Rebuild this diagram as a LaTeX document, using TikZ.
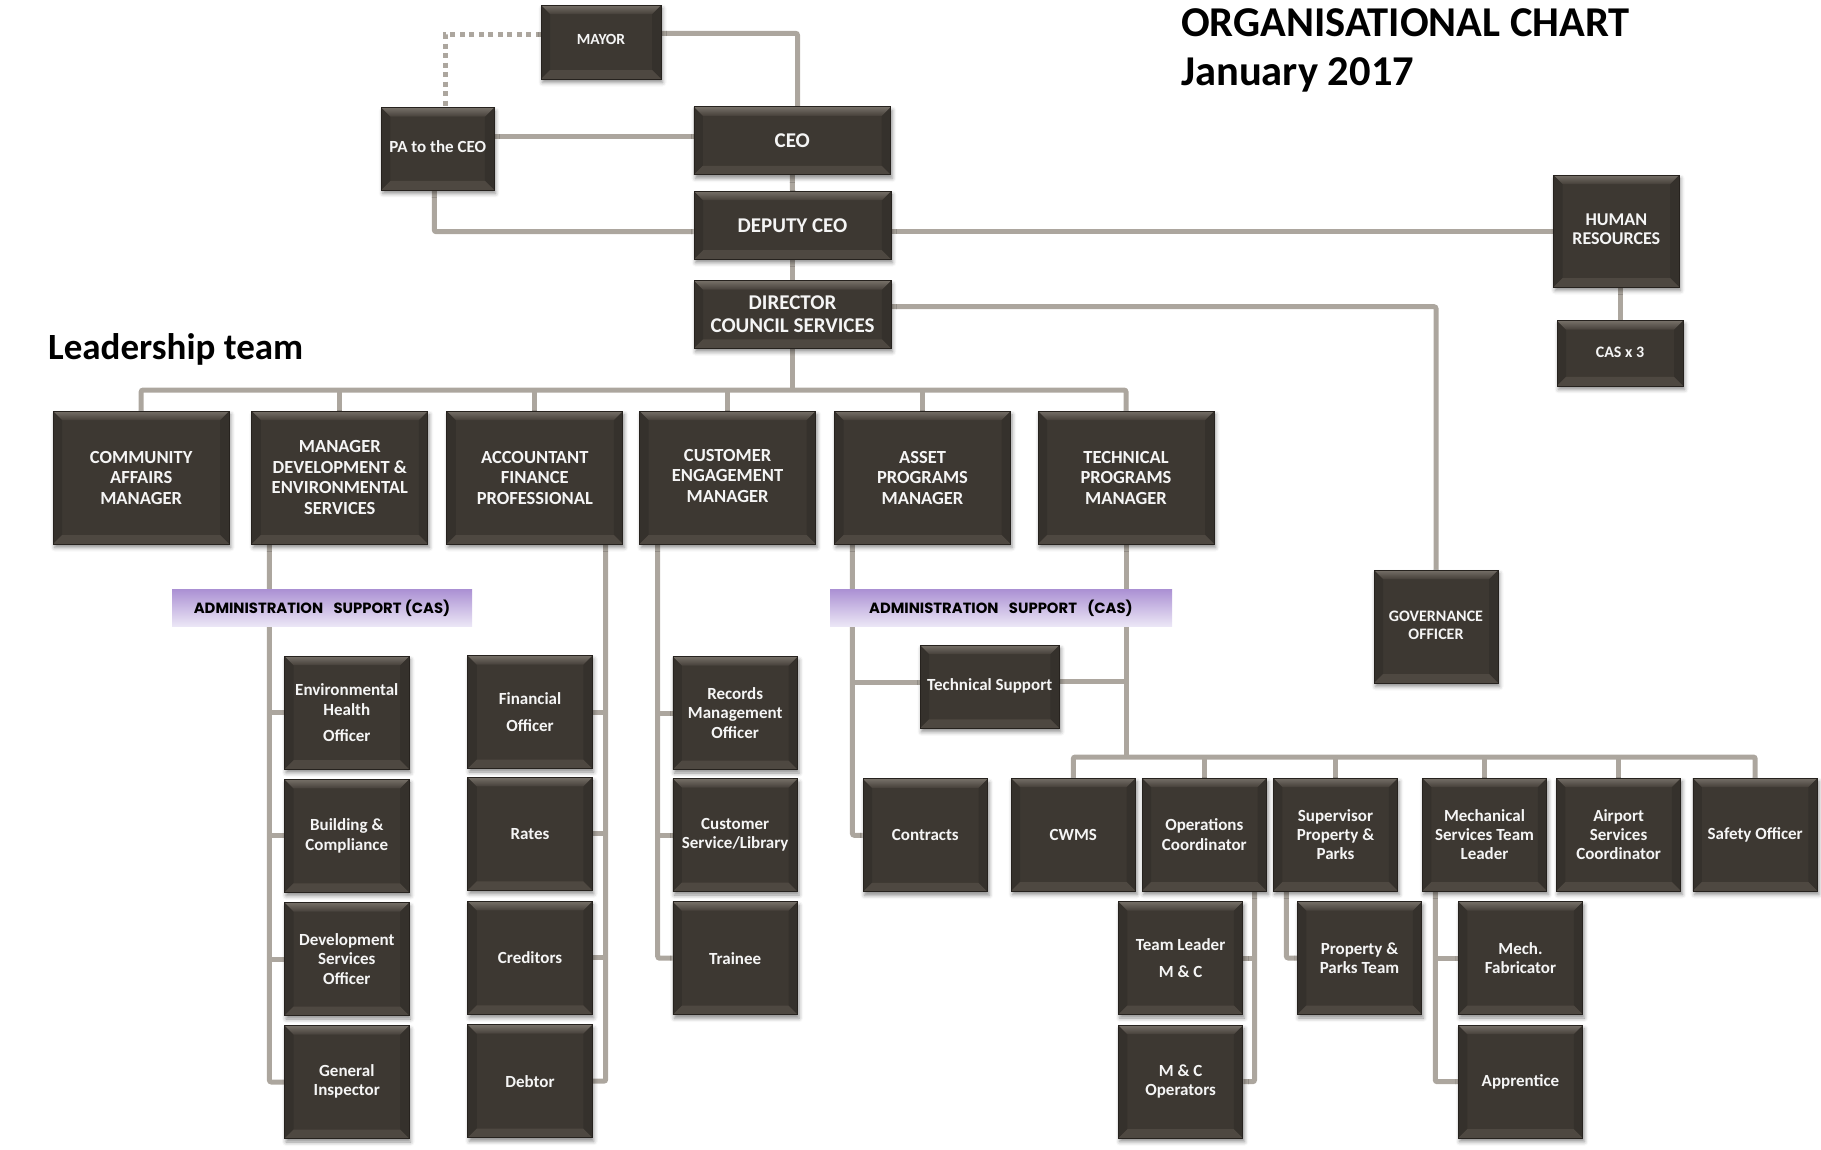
\documentclass[tikz,border=0pt]{standalone}
\usepackage{fontspec}
\setmainfont{Carlito}
\newfontfamily\admfont{Poppins}
\usetikzlibrary{shadows.blur,calc}
\definecolor{boxface}{RGB}{61,56,50}
\definecolor{bevtop}{RGB}{118,112,104}
\definecolor{bevtopb}{RGB}{70,64,58}
\definecolor{bevside}{RGB}{53,49,44}
\definecolor{bevbot}{RGB}{78,72,65}
\definecolor{boxedge}{RGB}{38,34,30}
\definecolor{linec}{RGB}{172,166,158}
\definecolor{panelt}{RGB}{158,158,158}
\definecolor{panelb}{RGB}{228,228,228}
\definecolor{panelline}{RGB}{90,86,82}
\definecolor{admt}{RGB}{172,146,212}
\definecolor{admb}{RGB}{236,231,246}
\definecolor{boxtext}{RGB}{245,245,245}
\pgfdeclarelayer{panellayer}
\pgfdeclarelayer{linelayer}
\pgfsetlayers{panellayer,linelayer,main}
\tikzset{
  bev/.style={path picture={
    \coordinate (bvnw) at (path picture bounding box.north west);
    \coordinate (bvne) at (path picture bounding box.north east);
    \coordinate (bvsw) at (path picture bounding box.south west);
    \coordinate (bvse) at (path picture bounding box.south east);
    \coordinate (bvinw) at ([shift={(9pt,-9pt)}]bvnw);
    \coordinate (bvine) at ([shift={(-9pt,-9pt)}]bvne);
    \coordinate (bvisw) at ([shift={(9pt,9pt)}]bvsw);
    \coordinate (bvise) at ([shift={(-9pt,9pt)}]bvse);
    \fill[bevside] (bvnw) -- (bvinw) -- (bvisw) -- (bvsw) -- cycle;
    \fill[bevside] (bvne) -- (bvine) -- (bvise) -- (bvse) -- cycle;
    \fill[bevbot] (bvsw) -- (bvisw) -- (bvise) -- (bvse) -- cycle;
    \shade[top color=bevtop, bottom color=bevtopb] (bvnw) -- (bvne) -- (bvine) -- (bvinw) -- cycle;
  }},
  orgbox/.style={draw=boxedge, line width=0.8pt, fill=boxface, bev,
    blur shadow={shadow xshift=1.5pt, shadow yshift=-3.5pt, shadow blur radius=4pt, shadow opacity=45},
    text=boxtext, align=center, inner sep=0pt,
    font=\bfseries\fontsize{17}{19.4}\selectfont,
    minimum width=124.5pt, minimum height=113pt},
  topbox/.style={orgbox, minimum width=196.8pt, minimum height=68pt,
    font=\bfseries\fontsize{21}{23.3}\selectfont},
  leadbox/.style={orgbox, minimum width=176pt, minimum height=133pt,
    font=\bfseries\fontsize{18.5}{20.5}\selectfont},
  admbar/.style={top color=admt, bottom color=admb, draw=none, inner sep=0pt,
    minimum height=36.5pt, text=black, font=\admfont\bfseries\fontsize{14.8}{17}\selectfont},
  conn/.style={draw=linec, line width=5pt, rounded corners=2pt},
  dotconn/.style={draw=linec, line width=5pt, dash pattern=on 5pt off 4.5pt},
  titletext/.style={anchor=base west, inner sep=0pt, text=black},
}
\begin{document}
\begin{tikzpicture}[x=1pt,y=-1pt]
\useasboundingbox (0,0) rectangle (1821,1149);
% titles
\node[titletext, font=\bfseries\fontsize{42.5}{46}\selectfont] (title1) at (1181,36) {ORGANISATIONAL CHART};
\node[titletext, font=\bfseries\fontsize{42.5}{46}\selectfont] (title2) at (1181,85) {January 2017};
\node[titletext, font=\bfseries\fontsize{37}{40}\selectfont] (ltlabel) at (48,359) {Leadership team};
% panel
\begin{pgfonlayer}{panellayer}
\node[draw=panelline, line width=0.9pt, top color=panelt, bottom color=panelb,
  minimum width=1327.5pt, minimum height=169.5pt, inner sep=0pt] (panel) at (667.2,486.7) {};
\end{pgfonlayer}
% top management
\node[orgbox, minimum width=120pt, minimum height=74pt, font=\bfseries\fontsize{15.5}{18}\selectfont] (mayor) at (601,42) {\raisebox{6pt}{MAYOR}};
\node[orgbox, minimum width=112.5pt, minimum height=82.3pt] (pa) at (437.7,148.8) {\raisebox{4pt}{PA to the CEO}};
\node[topbox] (ceo) at (792.3,140.8) {CEO};
\node[topbox] (deputy) at (792.5,225.2) {DEPUTY CEO};
\node[topbox, minimum height=67.6pt] (director) at (792.5,314.5) {DIRECTOR\\COUNCIL SERVICES};
\node[orgbox, minimum width=125.5pt, minimum height=112pt, font=\bfseries\fontsize{18}{19.5}\selectfont] (hr) at (1616.3,231) {\raisebox{4pt}{\begin{tabular}{@{}c@{}}HUMAN\\RESOURCES\end{tabular}}};
\node[orgbox, minimum width=126pt, minimum height=65.3pt, font=\bfseries\fontsize{16}{18}\selectfont] (cas3) at (1620,353.3) {\raisebox{2.5pt}{CAS x 3}};
\node[orgbox, minimum width=124pt, minimum height=113pt, font=\bfseries\fontsize{16}{18}\selectfont] (gov) at (1436,626.5) {\raisebox{3pt}{\begin{tabular}{@{}c@{}}GOVERNANCE\\OFFICER\end{tabular}}};
% leadership team
\node[leadbox] (lt1) at (141.2,477.5) {COMMUNITY\\AFFAIRS\\MANAGER};
\node[leadbox] (lt2) at (339.8,477.5) {MANAGER\\DEVELOPMENT \&\\ENVIRONMENTAL\\SERVICES};
\node[leadbox] (lt3) at (534.8,477.5) {ACCOUNTANT\\FINANCE\\PROFESSIONAL};
\node[leadbox] (lt4) at (727.6,477.5) {\raisebox{3pt}{\begin{tabular}{@{}c@{}}CUSTOMER\\ENGAGEMENT\\MANAGER\end{tabular}}};
\node[leadbox] (lt5) at (922.5,477.5) {ASSET\\PROGRAMS\\MANAGER};
\node[leadbox] (lt6) at (1126,477.5) {TECHNICAL\\PROGRAMS\\MANAGER};
% admin bars
\node[admbar, minimum width=300pt] (adm1) at (322,608.2) {ADMINISTRATION\hspace{0.7em}SUPPORT (CAS)};
\node[admbar, minimum width=342pt] (adm2) at (1001,608.2) {ADMINISTRATION\hspace{0.7em}SUPPORT\hspace{0.7em}(CAS)};
% column 1
\node[orgbox] (ehealth) at (346.8,712.7) {Environmental\\Health\\[7pt]Officer};
\node[orgbox] (build) at (346.8,835.8) {Building \&\\Compliance};
\node[orgbox] (devserv) at (346.8,959) {Development\\Services\\Officer};
\node[orgbox] (geninsp) at (346.8,1082) {\raisebox{10pt}{\begin{tabular}{@{}c@{}}General\\Inspector\end{tabular}}};
% column 2
\node[orgbox] (fin) at (530,712) {Financial\\[8pt]Officer};
\node[orgbox] (rates) at (530,833.8) {Rates};
\node[orgbox] (cred) at (530,957.8) {Creditors};
\node[orgbox] (debtor) at (530,1081.2) {Debtor};
% column 3
\node[orgbox, minimum width=124.6pt] (records) at (735.2,713) {Records\\Management\\Officer};
\node[orgbox, minimum width=124.6pt] (custserv) at (735.2,835) {Customer\\Service/Library};
\node[orgbox, minimum width=124.6pt] (trainee) at (735.2,958.2) {Trainee};
% technical side
\node[orgbox, minimum width=139.3pt, minimum height=83.3pt] (techsup) at (989.7,686.7) {\raisebox{4pt}{Technical Support}};
\node[orgbox] (contracts) at (925.3,835.3) {Contracts};
\node[orgbox] (cwms) at (1073.3,834.5) {CWMS};
\node[orgbox] (ops) at (1204.3,834.5) {Operations\\Coordinator};
\node[orgbox] (sup) at (1335.5,834.5) {Supervisor\\Property \&\\Parks};
\node[orgbox] (mech) at (1484.5,834.5) {Mechanical\\Services Team\\Leader};
\node[orgbox] (air) at (1618.6,834.5) {Airport\\Services\\Coordinator};
\node[orgbox] (safety) at (1755.2,834.5) {Safety Officer};
\node[orgbox] (tlmc) at (1180.6,958) {Team Leader\\[7pt]M \& C};
\node[orgbox] (mcops) at (1180.6,1081.7) {M \& C\\Operators};
\node[orgbox] (ppteam) at (1359.5,958) {Property \&\\Parks Team};
\node[orgbox] (fab) at (1520.5,958) {Mech.\\Fabricator};
\node[orgbox] (appr) at (1520.5,1081.7) {Apprentice};
% connectors
\begin{pgfonlayer}{linelayer}
\coordinate (lbus) at (0,390);
\coordinate (rbus) at (0,757);
\draw[dotconn] ([yshift=7.3pt]mayor.west) -| ([xshift=7.3pt]pa.north);
\draw[conn] ([yshift=8.7pt]mayor.east) -| ([xshift=5.2pt]ceo.north);
\draw[conn] ([yshift=4.1pt]ceo.west) -- ([yshift=4.1pt]ceo.west -| pa.east);
\draw[conn] ([xshift=-3.4pt]pa.south) |- ([yshift=-6.5pt]deputy.west);
\draw[conn] (ceo.south) -- (deputy.north);
\draw[conn] (deputy.south) -- (director.north);
\draw[conn] (hr.west) -- (hr.west -| deputy.east);
\draw[conn] (cas3.north) -- (cas3.north |- hr.south);
\draw[conn] ([yshift=7.8pt]director.east) -| (gov.north);
\draw[conn] (director.south) -- (director.south |- lbus);
\draw[conn] (lt1.north) |- (lbus -| lt6.north) -- (lt6.north);
\foreach \n in {lt2,lt3,lt4,lt5} \draw[conn] (\n.north) -- (\n.north |- lbus);
% column 1
\coordinate (c1) at ([xshift=18pt]lt2.south west);
\draw[conn] (c1) |- (geninsp.west);
\foreach \n in {ehealth,build,devserv} \draw[conn] (\n.west) -- (\n.west -| c1);
% column 2
\coordinate (c2) at ([xshift=-17.5pt]lt3.south east);
\draw[conn] (c2) |- (debtor.east);
\foreach \n in {fin,rates,cred} \draw[conn] (\n.east) -- (\n.east -| c2);
% column 3
\coordinate (c3) at ([xshift=18.5pt]lt4.south west);
\draw[conn] (c3) |- (trainee.west);
\foreach \n in {records,custserv} \draw[conn] (\n.west) -- (\n.west -| c3);
% asset
\coordinate (c4) at ([xshift=18.3pt]lt5.south west);
\draw[conn] (c4) |- (contracts.west);
\draw[conn] ([yshift=4pt]techsup.west) -- ([yshift=4pt]techsup.west -| c4);
% technical
\draw[conn] (lt6.south) -- (lt6.south |- rbus);
\draw[conn] ([yshift=5pt]techsup.east) -- ([yshift=5pt]techsup.east -| lt6.south);
\draw[conn] (cwms.north) |- (rbus -| safety.north) -- (safety.north);
\foreach \n in {ops,sup,mech,air} \draw[conn] (\n.north) -- (\n.north |- rbus);
\coordinate (os) at ([xshift=-12.4pt]ops.south east);
\draw[conn] (os) |- (mcops.east);
\draw[conn] (tlmc.east) -- (tlmc.east -| os);
\coordinate (ss) at ([xshift=13.5pt]sup.south west);
\draw[conn] (ss) |- (ppteam.west);
\coordinate (ms) at ([xshift=13.4pt]mech.south west);
\draw[conn] (ms) |- (appr.west);
\draw[conn] (fab.west) -- (fab.west -| ms);
\end{pgfonlayer}
\end{tikzpicture}
\end{document}
